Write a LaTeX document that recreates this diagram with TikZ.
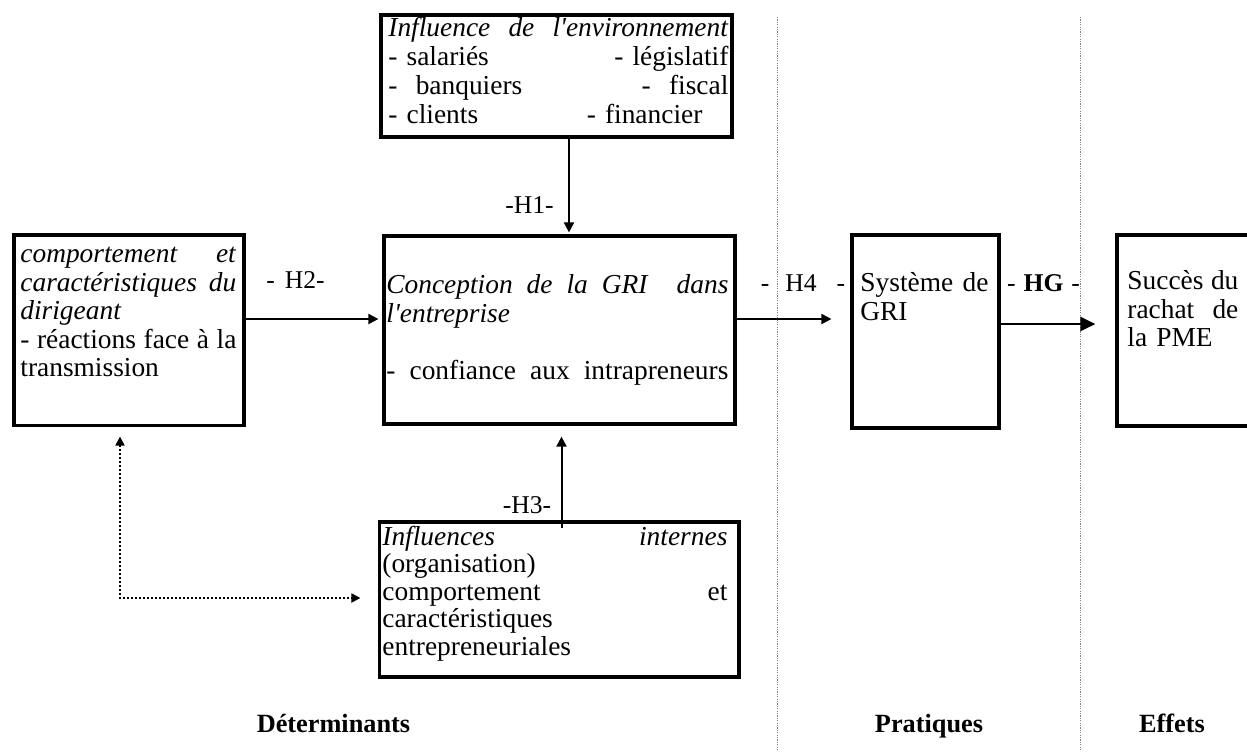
\documentclass[tikz,border=0pt]{standalone}
\usepackage{fontspec}
\setmainfont{Liberation Serif}[Ligatures=TeXOff]
\usetikzlibrary{arrows.meta,fit,calc}

\begin{document}
\begin{tikzpicture}[x=0.5pt,y=-0.5pt,
  box/.style={draw, line width=1.6pt, inner sep=0pt},
  txt/.style={inner sep=0pt, anchor=north west, align=left},
  body/.style={font=\fontsize{13.7}{14.3}\selectfont},
  arr/.style={line width=1pt, -{Triangle[length=5pt,width=5pt]}},
  dotarr/.style={line width=1pt, dash pattern=on 1pt off 1pt,
    {Triangle[length=4.5pt,width=4.5pt]}-{Triangle[length=4.5pt,width=4.5pt]}},
  lab/.style={font=\fontsize{12.8}{14}\selectfont, inner sep=0pt, anchor=base},
  ttl/.style={font=\fontsize{13.15}{14}\selectfont\bfseries, inner sep=0pt, anchor=base},
  sep/.style={draw=black!50, line width=0.6pt, dash pattern=on 0.6pt off 0.6pt}]

\clip (0,0) rectangle (1247,751);

% column separators
\draw[sep] (777.5,17) -- (777.5,751);
\draw[sep] (1080.5,17) -- (1080.5,751);

% frames
\node[box, fit={(381,15) (732,137)}] (env) {};
\node[box, fit={(384,236) (735,424)}] (cbox) {};
\node[box, fit={(14,235) (244,425.5)}] (lbox) {};
\node[box, fit={(379.5,522) (739,677)}] (bbox) {};
\node[box, fit={(852,235) (999,428)}] (sbox) {};
\node[box, fit={(1117,235) (1262,426)}] (ebox) {};

% frame contents
\node[txt, text width=170pt, font=\fontsize{13.7}{14.5}\selectfont] (envt) at (388,15.6) {%
\strut\textit{Influence}\hfill\textit{de}\hfill\textit{l'environnement}\\
- salariés\hfill - législatif\\
-\ \ banquiers\hfill -\ \ fiscal\\
- clients\hfill - financier\hspace{13pt}\mbox{}};

\node[txt, body, text width=108pt] (lboxt) at (20,242) {%
\strut\textit{comportement}\hfill\textit{et}\\
\textit{caractéristiques}\hfill\textit{du}\\
\textit{dirigeant}\\
-\hfill réactions\hfill face\hfill à\hfill la\\
transmission};

\node[txt, body, text width=171pt] (cboxt) at (386,273) {%
\strut\textit{Conception}\hfill\textit{de}\hfill\textit{la}\hfill\textit{GRI}\hfill\hfill\textit{dans}\\
\textit{l'entreprise}\\
\mbox{}\\
-\hfill confiance\hfill aux\hfill intrapreneurs};

\node[txt, text width=172.5pt, font=\fontsize{13.7}{13.75}\selectfont] (bboxt) at (382,525.7) {%
\strut\textit{Influences}\hfill\textit{internes}\\
(organisation)\\
comportement\hfill et\\
caractéristiques\\
entrepreneuriales};

\node[txt, body, text width=64pt] (sboxt) at (860,271) {%
\strut Système\hfill de\\
GRI};

\node[txt, body, text width=55.5pt] (eboxt) at (1127,269) {%
\strut Succès\hfill du\\
rachat\hfill de\\
la PME};

% connectors
\coordinate (h1) at (569,0);
\coordinate (h3) at (561.5,0);
\coordinate (ya) at (0,319);
\coordinate (yb) at (0,324);
\coordinate (dc) at (120,598);

\draw[arr, shorten >=1pt] (h1 |- env.south) -- (h1 |- cbox.north);
\draw[arr, shorten >=2pt] (lbox.east |- ya) -- (cbox.west |- ya);
\draw[arr, shorten >=9.5pt] (cbox.east |- ya) -- (sbox.west |- ya);
\draw[line width=1.3pt, -{Triangle[length=7.5pt,width=7pt]}, shorten >=10pt]
  (sbox.east |- yb) -- (ebox.west |- yb);
\draw[arr, shorten >=5.5pt] ($(h3 |- bbox.north)+(0,8)$) -- (h3 |- cbox.south);
\draw[dotarr, shorten <=4.75pt, shorten >=8.75pt]
  (lbox.south -| dc) -- (dc) -- (dc -| bbox.west);

% link labels
\node[lab] (lh1) at (529.5,213) {-H1-};
\node[lab] (lh2) at (295.5,288) {-\hspace{5pt}H2-};
\node[lab] (lh3) at (527,513) {-H3-};
\node[lab] (lh4) at (803,291) {-\hspace{8pt}H4\hspace{10pt}-};
\node[lab] (lhg) at (1043.5,291) {-\hspace{4pt}\textbf{HG}\hspace{4pt}-};

% column titles
\node[ttl] (tdet) at (333.5,732) {Déterminants};
\node[ttl] (tpra) at (929,732) {Pratiques};
\node[ttl] (teff) at (1172,732) {Effets};
\end{tikzpicture}
\end{document}
